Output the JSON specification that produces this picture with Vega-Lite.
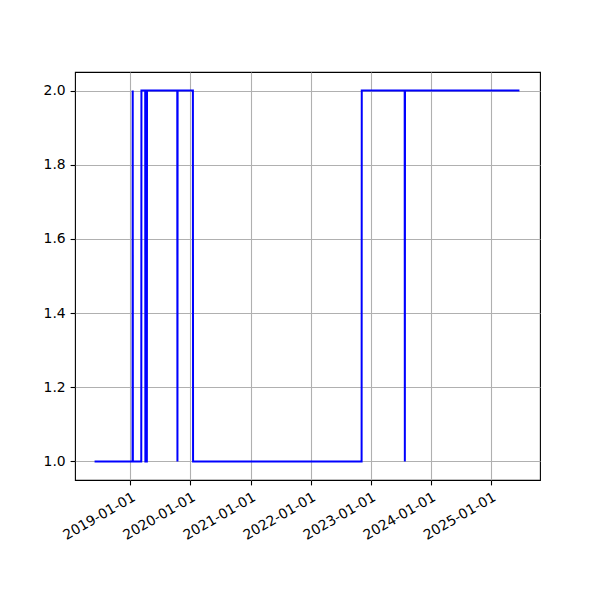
{
  "$schema": "https://vega.github.io/schema/vega-lite/v6.json",
  "width": 465,
  "height": 408,
  "autosize": {"type": "none"},
  "padding": {"left": 75, "top": 72, "right": 60, "bottom": 120},
  "background": "white",
  "config": {
    "view": {"stroke": "black", "strokeWidth": 1.1},
    "axis": {
      "labelFont": "DejaVu Sans",
      "labelFontSize": 13.9,
      "labelColor": "black",
      "labelOverlap": false,
      "labelBound": false,
      "domain": false,
      "tickColor": "black",
      "tickSize": 4.9,
      "tickWidth": 1.1,
      "gridColor": "#b0b0b0",
      "gridWidth": 1.1,
      "gridOpacity": 1,
      "labelPadding": 4.9,
      "title": null
    }
  },
  "data": {
    "values": [
      {"date": "2018-05-28", "value": 1},
      {"date": "2019-01-14", "value": 1},
      {"date": "2019-01-15", "value": 2},
      {"date": "2019-01-16", "value": 1},
      {"date": "2019-03-08", "value": 1},
      {"date": "2019-03-09", "value": 2},
      {"date": "2019-04-01", "value": 2},
      {"date": "2019-04-02", "value": 1},
      {"date": "2019-04-11", "value": 1},
      {"date": "2019-04-12", "value": 2},
      {"date": "2019-10-13", "value": 2},
      {"date": "2019-10-14", "value": 1},
      {"date": "2019-10-15", "value": 2},
      {"date": "2020-01-16", "value": 2},
      {"date": "2020-01-17", "value": 1},
      {"date": "2022-11-07", "value": 1},
      {"date": "2022-11-08", "value": 2},
      {"date": "2023-07-27", "value": 2},
      {"date": "2023-07-28", "value": 1},
      {"date": "2023-07-29", "value": 2},
      {"date": "2025-06-24", "value": 2}
    ]
  },
  "mark": {"type": "line", "color": "#0000ff", "strokeWidth": 2, "clip": true},
  "encoding": {
    "x": {
      "field": "date",
      "type": "temporal",
      "scale": {
        "type": "utc",
        "domain": [
          {"year": 2018, "month": 1, "date": 29, "utc": true},
          {"year": 2025, "month": 10, "date": 27, "utc": true}
        ]
      },
      "axis": {
        "values": [
          {"year": 2019, "month": 1, "date": 1, "utc": true},
          {"year": 2020, "month": 1, "date": 1, "utc": true},
          {"year": 2021, "month": 1, "date": 1, "utc": true},
          {"year": 2022, "month": 1, "date": 1, "utc": true},
          {"year": 2023, "month": 1, "date": 1, "utc": true},
          {"year": 2024, "month": 1, "date": 1, "utc": true},
          {"year": 2025, "month": 1, "date": 1, "utc": true}
        ],
        "labelExpr": "utcFormat(datum.value, '%Y-%m-%d')",
        "labelAngle": -30,
        "labelAlign": "right",
        "labelBaseline": "top",
        "labelDx": -12,
        "labelDy": 4,
        "grid": true
      }
    },
    "y": {
      "field": "value",
      "type": "quantitative",
      "scale": {"domain": [0.95, 2.05], "nice": false, "zero": false},
      "axis": {
        "values": [1.0, 1.2, 1.4, 1.6, 1.8, 2.0],
        "format": ".1f",
        "grid": true
      }
    }
  }
}
